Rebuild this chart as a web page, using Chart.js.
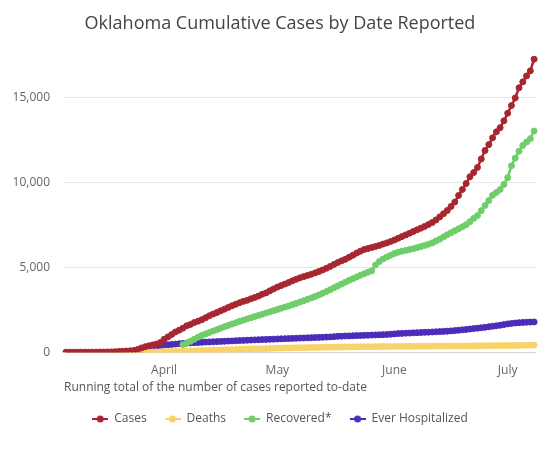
<!DOCTYPE html>
<html>
<head>
<meta charset="utf-8">
<title>Oklahoma Cumulative Cases by Date Reported</title>
<script src="https://cdn.jsdelivr.net/npm/chart.js@4.4.1/dist/chart.umd.min.js"></script>
<style>
  body { margin: 0; background: #fff; }
  #wrap { width: 560px; height: 451px; }
</style>
</head>
<body>
<div id="wrap"><canvas id="casesChart"></canvas></div>
<script>
// ---------- data ----------
const dateLabels = [
  '3/6','3/7','3/8','3/9','3/10','3/11','3/12','3/13','3/14','3/15','3/16','3/17','3/18','3/19','3/20',
  '3/21','3/22','3/23','3/24','3/25','3/26','3/27','3/28','3/29','3/30','3/31',
  '4/1','4/2','4/3','4/4','4/5','4/6','4/7','4/8','4/9','4/10','4/11','4/12','4/13','4/14','4/15',
  '4/16','4/17','4/18','4/19','4/20','4/21','4/22','4/23','4/24','4/25','4/26','4/27','4/28','4/29','4/30',
  '5/1','5/2','5/3','5/4','5/5','5/6','5/7','5/8','5/9','5/10','5/11','5/12','5/13','5/14','5/15','5/16',
  '5/17','5/18','5/19','5/20','5/21','5/22','5/23','5/24','5/25','5/26','5/27','5/28','5/29','5/30','5/31',
  '6/1','6/2','6/3','6/4','6/5','6/6','6/7','6/8','6/9','6/10','6/11','6/12','6/13','6/14','6/15',
  '6/16','6/17','6/18','6/19','6/20','6/21','6/22','6/23','6/24','6/25','6/26','6/27','6/28','6/29','6/30',
  '7/1','7/2','7/3','7/4','7/5','7/6','7/7','7/8'
];

// month names shown on the x axis, and the date each one sits on
const tickDates = ['4/1', '5/1', '6/1', '7/1'];
const tickNames = ['April', 'May', 'June', 'July'];

const seriesNames = ['Cases', 'Deaths', 'Recovered*', 'Ever Hospitalized'];
const seriesColors = ['#a7262f', '#f8d36a', '#6fcd6a', '#4b2db9'];

// cumulative cases, from 3/6
const cases = [
  1, 1, 1, 2, 2, 2, 3, 4, 4, 7, 10, 17, 19, 29, 44, 53, 67, 81, 106, 164, 248, 322, 377, 429, 481, 565,
  760, 900, 1040, 1190, 1300, 1420, 1560, 1640, 1750, 1830, 1920, 2030, 2150, 2250, 2340,
  2440, 2540, 2640, 2740, 2830, 2920, 3000, 3060, 3150, 3230, 3310, 3420, 3500, 3620, 3730,
  3840, 3930, 4020, 4110, 4210, 4300, 4390, 4460, 4530, 4600, 4680, 4760, 4850, 4950, 5060, 5180,
  5290, 5390, 5480, 5600, 5720, 5850, 5960, 6060, 6120, 6180, 6240, 6300, 6380, 6450, 6530,
  6620, 6720, 6820, 6920, 7020, 7120, 7220, 7320, 7420, 7530, 7650, 7800, 7980, 8170, 8360,
  8600, 8860, 9250, 9600, 9950, 10350, 10600, 10900, 11400, 11900, 12250, 12650, 13000, 13250, 13650,
  14100, 14550, 15000, 15600, 15950, 16300, 16600, 17290
];

// cumulative deaths, from 3/19
const deathsStart = 13;
const deaths = [
  1, 1, 1, 1, 2, 2, 5, 7, 8, 15, 16, 17, 23,
  30, 34, 38, 42, 46, 51, 67, 79, 80, 88, 94, 99, 108, 123, 131, 136, 139, 140, 143, 164, 170, 179,
  188, 191, 197, 207, 207, 213, 222, 230,
  238, 241, 245, 250, 253, 260, 266, 267, 271, 276, 278, 284, 288, 288, 294, 298, 299, 303, 307, 311,
  316, 318, 318, 319, 322, 326, 328, 330, 334, 335, 337,
  340, 341, 342, 345, 347, 348, 350, 352, 353, 354, 357, 359, 360, 361, 362, 363, 366, 368, 369, 372,
  373, 375, 377, 379, 381, 382, 384, 386, 389, 391,
  395, 398, 401, 404, 407, 410, 414, 418
];

// cumulative recovered, from 4/6
const recoveredStart = 31;
const recovered = [
  450, 540, 640, 760, 880, 990, 1080, 1160, 1250, 1330, 1420, 1500, 1580, 1660, 1740, 1820, 1890,
  1960, 2030, 2100, 2170, 2240, 2310, 2380, 2450,
  2520, 2590, 2660, 2730, 2800, 2880, 2960, 3040, 3120, 3200, 3290, 3380, 3480, 3580, 3690, 3800,
  3910, 4020, 4130, 4240, 4340, 4440, 4540, 4630, 4720, 4800, 5150, 5350, 5500, 5620,
  5720, 5820, 5900, 5960, 6010, 6060, 6100, 6170, 6230, 6300, 6370, 6450, 6560, 6670, 6800,
  6930, 7050, 7170, 7280, 7400, 7520, 7700, 7900, 8060, 8350, 8660, 8950, 9260, 9420, 9600,
  9900, 10300, 11000, 11450, 11860, 12200, 12400, 12600, 13050
];

// cumulative ever hospitalized, from 3/26
const hospStart = 20;
const hospitalized = [
  150, 210, 260, 310, 350, 390,
  420, 440, 460, 480, 500, 520, 535, 548, 560, 572, 583, 595, 604, 616, 625,
  636, 645, 657, 666, 676, 688, 697, 706, 715, 727, 736, 744, 753, 762, 771,
  780, 789, 797, 806, 815, 822, 832, 840, 849, 856, 866, 874, 883, 893, 902, 918,
  935, 946, 955, 962, 970, 978, 985, 993, 1001, 1010, 1018, 1026, 1035, 1045, 1060,
  1080, 1098, 1110, 1121, 1130, 1142, 1150, 1160, 1172, 1180, 1192, 1203, 1214, 1228, 1240,
  1256, 1274, 1296, 1318, 1340, 1368, 1392, 1418, 1440, 1468, 1502, 1530, 1560, 1590, 1628,
  1670, 1700, 1722, 1740, 1756, 1768, 1775, 1785
];

// pad a series that starts later than 3/6 with gaps
const padFrom = (start, values) => new Array(start).fill(null).concat(values);

// small "line with dot" marker for the legend
const makeMarker = (color) => {
    const c = document.createElement('canvas');
    c.width = 16;
    c.height = 8;
    const ctx = c.getContext('2d');
    ctx.strokeStyle = color;
    ctx.lineWidth = 2;
    ctx.beginPath();
    ctx.moveTo(0, 4);
    ctx.lineTo(16, 4);
    ctx.stroke();
    ctx.fillStyle = color;
    ctx.beginPath();
    ctx.arc(8, 4, 3.5, 0, Math.PI * 2);
    ctx.fill();
    return c;
};

const makeDataset = (i, data) => ({
    label: seriesNames[i],
    data: data,
    borderColor: seriesColors[i],
    backgroundColor: seriesColors[i],
    pointBackgroundColor: seriesColors[i],
    pointBorderColor: seriesColors[i],
    borderWidth: 2.5,
    pointRadius: 3,
    pointBorderWidth: 1,
    pointHoverRadius: 3,
    fill: false,
    tension: 0,
});

Chart.defaults.font.family = "'Open Sans', 'Noto Sans', sans-serif";
Chart.defaults.font.size = 12;
Chart.defaults.color = '#666';

const markers = seriesColors.map(makeMarker);

new Chart(document.getElementById('casesChart'), {
    type: 'line',
    data: {
        labels: dateLabels,
        datasets: [
            makeDataset(0, cases),
            makeDataset(1, padFrom(deathsStart, deaths)),
            makeDataset(2, padFrom(recoveredStart, recovered)),
            makeDataset(3, padFrom(hospStart, hospitalized)),
        ],
    },
    options: {
        responsive: true,
        maintainAspectRatio: false,
        animation: false,
        layout: {
            padding: { left: 12, right: 12, top: 0, bottom: 16 },
        },
        plugins: {
            title: {
                display: true,
                text: 'Oklahoma Cumulative Cases by Date Reported',
                color: '#444',
                font: { size: 18, weight: 'normal' },
                padding: { top: 13, bottom: 21 },
            },
            legend: {
                position: 'bottom',
                labels: {
                    usePointStyle: true,
                    pointStyleWidth: 16,
                    padding: 18,
                    color: '#555',
                    font: { size: 12 },
                    generateLabels: (chart) =>
                        Chart.defaults.plugins.legend.labels.generateLabels(chart).map((item) => ({
                            ...item,
                            pointStyle: markers[item.datasetIndex],
                        })),
                },
            },
            tooltip: { enabled: false },
        },
        scales: {
            x: {
                offset: true,
                grid: { display: false },
                border: { display: false },
                ticks: {
                    autoSkip: false,
                    maxRotation: 0,
                    minRotation: 0,
                    padding: 3,
                    color: '#666',
                    callback: function(value) {
                        const k = tickDates.indexOf(this.getLabelForValue(value));
                        return k >= 0 ? tickNames[k] : '';
                    },
                },
                title: {
                    display: true,
                    text: 'Running total of the number of cases reported to-date',
                    align: 'start',
                    color: '#555',
                    font: { size: 12 },
                    padding: { top: 0, bottom: 0 },
                },
            },
            y: {
                min: 0,
                max: 17500,
                grid: {
                    drawTicks: false,
                    color: (ctx) => (ctx.tick && ctx.tick.value === 0 ? '#d4d4d4' : '#e6e6e6'),
                },
                border: { display: false },
                afterBuildTicks: (scale) => {
                    scale.ticks = scale.ticks.filter((t) => t.value % 5000 === 0);
                },
                afterFit: (scale) => {
                    scale.width = 52;
                },
                ticks: {
                    stepSize: 2500,
                    padding: 14,
                    color: '#666',
                    callback: (value) => value.toLocaleString('en-US'),
                },
            },
            // empty strip on the right so the plot ends where the original does
            yRight: {
                position: 'right',
                grid: { display: false },
                border: { display: false },
                ticks: { display: false },
                afterFit: (scale) => {
                    scale.width = 12;
                },
            },
        },
    },
});
</script>
</body>
</html>
